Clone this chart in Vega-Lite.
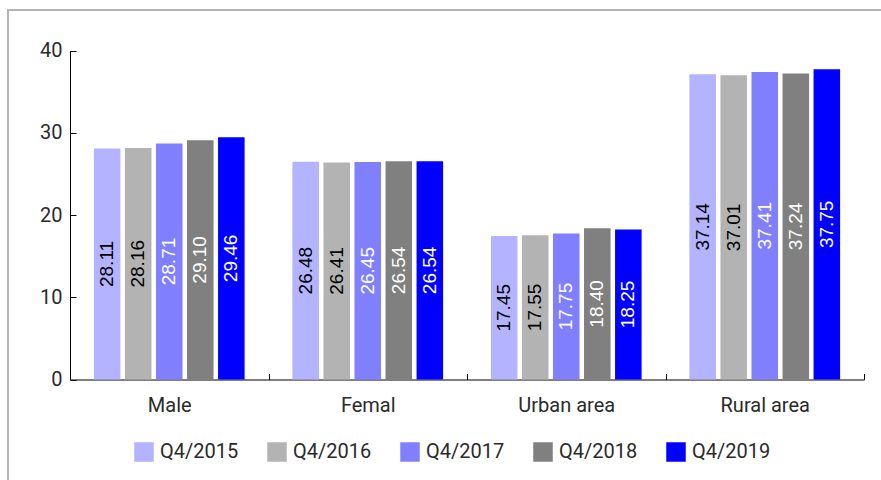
{
  "$schema": "https://vega.github.io/schema/vega-lite/v6.json",
  "width": 879,
  "height": 476,
  "autosize": {"type": "none"},
  "padding": {"left": 8, "top": 10, "right": -6, "bottom": -6},
  "background": "white",
  "config": {
    "view": {"stroke": "#b3b3b3", "strokeWidth": 2},
    "font": "Roboto"
  },
  "data": {
    "values": [
      {"category": "Male", "series": "Q4/2015", "value": 28.11},
      {"category": "Male", "series": "Q4/2016", "value": 28.16},
      {"category": "Male", "series": "Q4/2017", "value": 28.71},
      {"category": "Male", "series": "Q4/2018", "value": 29.10},
      {"category": "Male", "series": "Q4/2019", "value": 29.46},
      {"category": "Femal", "series": "Q4/2015", "value": 26.48},
      {"category": "Femal", "series": "Q4/2016", "value": 26.41},
      {"category": "Femal", "series": "Q4/2017", "value": 26.45},
      {"category": "Femal", "series": "Q4/2018", "value": 26.54},
      {"category": "Femal", "series": "Q4/2019", "value": 26.54},
      {"category": "Urban area", "series": "Q4/2015", "value": 17.45},
      {"category": "Urban area", "series": "Q4/2016", "value": 17.55},
      {"category": "Urban area", "series": "Q4/2017", "value": 17.75},
      {"category": "Urban area", "series": "Q4/2018", "value": 18.40},
      {"category": "Urban area", "series": "Q4/2019", "value": 18.25},
      {"category": "Rural area", "series": "Q4/2015", "value": 37.14},
      {"category": "Rural area", "series": "Q4/2016", "value": 37.01},
      {"category": "Rural area", "series": "Q4/2017", "value": 37.41},
      {"category": "Rural area", "series": "Q4/2018", "value": 37.24},
      {"category": "Rural area", "series": "Q4/2019", "value": 37.75}
    ]
  },
  "encoding": {
    "x": {
      "field": "category",
      "type": "nominal",
      "sort": ["Male", "Femal", "Urban area", "Rural area"],
      "scale": {"range": [62, 856], "paddingInner": 0, "paddingOuter": 0},
      "axis": {
        "title": null,
        "offset": -106.5,
        "labelAngle": 0,
        "tickBand": "extent",
        "tickSize": -6,
        "tickColor": "#000000",
        "domainColor": "#000000",
        "domainWidth": 1,
        "labelPadding": 21.5,
        "labelFont": "Roboto",
        "labelFontSize": 20,
        "labelColor": "#2a2a2a"
      }
    },
    "xOffset": {
      "field": "series",
      "type": "nominal",
      "sort": ["Q4/2015", "Q4/2016", "Q4/2017", "Q4/2018", "Q4/2019"],
      "scale": {"paddingInner": 0.145, "paddingOuter": 0.77}
    }
  },
  "layer": [
    {
      "mark": {"type": "bar"},
      "encoding": {
        "y": {
          "field": "value",
          "type": "quantitative",
          "scale": {"domain": [0, 40], "range": [369.5, 40.7], "nice": false},
          "axis": {
            "title": null,
            "offset": -62,
            "values": [0, 10, 20, 30, 40],
            "grid": false,
            "tickSize": -6,
            "tickColor": "#000000",
            "domainColor": "#000000",
            "domainWidth": 1,
            "labelPadding": 14,
            "labelFont": "Roboto",
            "labelFontSize": 20,
            "labelColor": "#2a2a2a"
          }
        },
        "color": {
          "field": "series",
          "type": "nominal",
          "sort": ["Q4/2015", "Q4/2016", "Q4/2017", "Q4/2018", "Q4/2019"],
          "scale": {
            "domain": ["Q4/2015", "Q4/2016", "Q4/2017", "Q4/2018", "Q4/2019"],
            "range": ["#b3b3ff", "#b3b3b3", "#8080ff", "#808080", "#0000ff"]
          },
          "legend": {
            "title": null,
            "orient": "none",
            "legendX": 126,
            "legendY": 432,
            "direction": "horizontal",
            "columns": 5,
            "columnPadding": 28,
            "symbolType": "square",
            "symbolSize": 380,
            "symbolStrokeWidth": 0,
            "labelOffset": 6,
            "labelFont": "Roboto",
            "labelFontSize": 20,
            "labelColor": "#2a2a2a"
          }
        }
      }
    },
    {
      "mark": {
        "type": "text",
        "angle": 270,
        "align": "center",
        "baseline": "middle",
        "font": "Liberation Sans",
        "fontSize": 19
      },
      "encoding": {
        "y": {
          "field": "value",
          "type": "quantitative",
          "scale": {"domain": [0, 80], "range": [369.5, 40.7], "nice": false},
          "axis": null
        },
        "text": {"field": "value", "type": "quantitative", "format": ".2f"},
        "color": {
          "condition": {
            "test": "datum.series == 'Q4/2015' || datum.series == 'Q4/2016'",
            "value": "#000000"
          },
          "value": "#ffffff"
        }
      }
    }
  ],
  "resolve": {"scale": {"y": "independent"}}
}
